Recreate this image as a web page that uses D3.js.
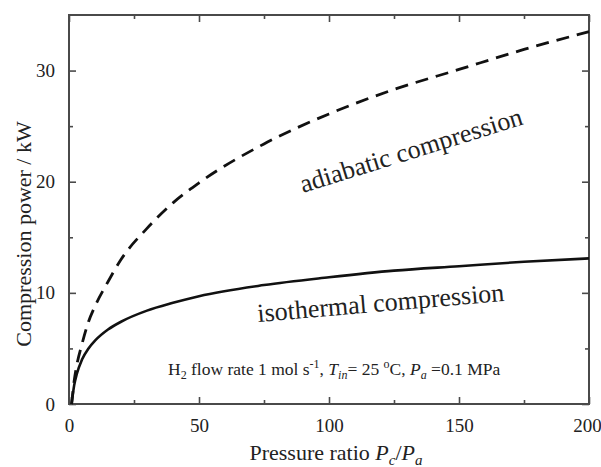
<!DOCTYPE html>
<html><head><meta charset="utf-8">
<script src="https://cdn.jsdelivr.net/npm/d3@7"></script>
<style>body{margin:0;background:#fff}svg{display:block}text{font-family:"Liberation Serif","Times New Roman",serif;fill:#222}</style>
</head><body><svg id="c" width="601" height="467"></svg>
<script>
const pressureRatio = [1, 2, 3, 5, 7.5, 10, 15, 20, 30, 40, 50, 75, 100, 125, 150, 175, 200];
const isothermal   = [0, 1.7, 2.7, 4.0, 5.0, 5.7, 6.7, 7.4, 8.4, 9.1, 9.7, 10.7, 11.4, 12.0, 12.4, 12.8, 13.1];
const adiabatic    = [0, 2.1, 3.5, 5.4, 7.4, 8.8, 11.0, 13.0, 15.8, 18.1, 19.9, 23.4, 26.1, 28.3, 30.1, 31.9, 33.5];
const xTicks = [0, 50, 100, 150, 200];
const yTicks = [0, 10, 20, 30];
const xMinor = [25, 75, 125, 175];
const yMinor = [5, 15, 25];

const FONT = '"Liberation Serif","Times New Roman",serif';
const svg = d3.select("#c");
const L = 69, R = 589, T = 15, B = 404;
const x = d3.scaleLinear().domain([0, 200]).range([L, R]);
const y = d3.scaleLinear().domain([0, 35]).range([B, T]);
const axisColor = "#4a4a4a";

function styleAxis(g){
  g.attr("font-family", FONT);
  g.selectAll(".domain").remove();
  g.selectAll(".tick line").attr("stroke", axisColor).attr("stroke-width", 1.6);
  g.selectAll(".tick text").style("font-family", FONT).style("font-size", "19px").attr("fill", "#222");
}
// bottom
svg.append("g").attr("transform", `translate(0,${B})`)
  .call(d3.axisBottom(x).tickValues(xTicks).tickSizeInner(-7).tickSizeOuter(0).tickPadding(15).tickFormat(d3.format("d")))
  .call(styleAxis)
  .call(g => g.selectAll(".tick text").filter(d => d === 200).attr("dx", -2));
svg.append("g").attr("transform", `translate(0,${B})`)
  .call(d3.axisBottom(x).tickValues(xMinor).tickSize(-4).tickFormat(""))
  .call(styleAxis);
// top
svg.append("g").attr("transform", `translate(0,${T})`)
  .call(d3.axisTop(x).tickValues(xTicks).tickSize(-7).tickFormat(""))
  .call(styleAxis);
svg.append("g").attr("transform", `translate(0,${T})`)
  .call(d3.axisTop(x).tickValues(xMinor).tickSize(-4).tickFormat(""))
  .call(styleAxis);
// left
svg.append("g").attr("transform", `translate(${L},0)`)
  .call(d3.axisLeft(y).tickValues(yTicks).tickSizeInner(-7).tickSizeOuter(0).tickPadding(14).tickFormat(d3.format("d")))
  .call(styleAxis);
svg.append("g").attr("transform", `translate(${L},0)`)
  .call(d3.axisLeft(y).tickValues(yMinor).tickSize(-4).tickFormat(""))
  .call(styleAxis);
// right
svg.append("g").attr("transform", `translate(${R},0)`)
  .call(d3.axisRight(y).tickValues(yTicks).tickSize(-7).tickFormat(""))
  .call(styleAxis);
svg.append("g").attr("transform", `translate(${R},0)`)
  .call(d3.axisRight(y).tickValues(yMinor).tickSize(-4).tickFormat(""))
  .call(styleAxis);

// frame
svg.append("rect").attr("x", L).attr("y", T).attr("width", R - L).attr("height", B - T)
  .attr("fill", "none").attr("stroke", axisColor).attr("stroke-width", 2);

const line = d3.line().x((d, i) => x(pressureRatio[i])).y(d => y(d)).curve(d3.curveMonotoneX);
svg.append("path").datum(isothermal).attr("d", line)
  .attr("fill", "none").attr("stroke", "#111").attr("stroke-width", 2.6);
svg.append("path").datum(adiabatic).attr("d", line)
  .attr("fill", "none").attr("stroke", "#111").attr("stroke-width", 2.8).attr("stroke-dasharray", "13,8");

// curve labels
svg.append("text").attr("transform", "translate(303,193) rotate(-17.3)")
  .style("font-family", FONT).style("font-size", "26px").text("adiabatic compression");
svg.append("text").attr("transform", "translate(258,322) rotate(-4.9)")
  .style("font-family", FONT).style("font-size", "26px").text("isothermal compression");

// annotation
const ann = svg.append("text").attr("x", 168).attr("y", 375).style("font-family", FONT).style("font-size", "17.5px");
ann.append("tspan").text("H");
ann.append("tspan").attr("dy", 4).style("font-size", "12px").text("2");
ann.append("tspan").attr("dy", -4).text(" flow rate 1 mol s");
ann.append("tspan").attr("dy", -7).style("font-size", "12px").text("-1");
ann.append("tspan").attr("dy", 7).text(", ");
ann.append("tspan").style("font-style", "italic").text("T");
ann.append("tspan").attr("dy", 4).style("font-size", "12px").style("font-style", "italic").text("in");
ann.append("tspan").attr("dy", -4).text("= 25 ");
ann.append("tspan").attr("dy", -7).style("font-size", "12px").text("o");
ann.append("tspan").attr("dy", 7).text("C, ");
ann.append("tspan").style("font-style", "italic").text("P");
ann.append("tspan").attr("dy", 4).style("font-size", "12px").style("font-style", "italic").text("a");
ann.append("tspan").attr("dy", -4).text(" =0.1 MPa");

// axis titles
const xt = svg.append("text").attr("x", 336).attr("y", 460).attr("text-anchor", "middle")
  .style("font-family", FONT).style("font-size", "22px");
xt.append("tspan").text("Pressure ratio ");
xt.append("tspan").style("font-style", "italic").text("P");
xt.append("tspan").attr("dy", 5).style("font-size", "15px").style("font-style", "italic").text("c");
xt.append("tspan").attr("dy", -5).text("/");
xt.append("tspan").style("font-style", "italic").text("P");
xt.append("tspan").attr("dy", 5).style("font-size", "15px").style("font-style", "italic").text("a");

svg.append("text").attr("transform", "translate(31,234) rotate(-90)").attr("text-anchor", "middle")
  .style("font-family", FONT).style("font-size", "22px").text("Compression power / kW");
</script></body></html>
